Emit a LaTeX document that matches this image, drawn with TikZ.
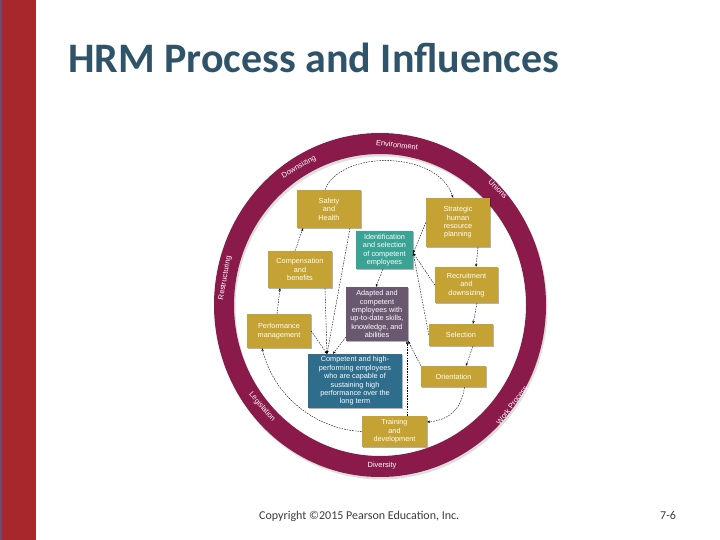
\documentclass[tikz,border=0pt]{standalone}
\usepackage{fontspec}
\setmainfont{Carlito}
\newfontfamily\figfont{Liberation Sans}
\usetikzlibrary{shadows,arrows.meta}
\definecolor{barred}{RGB}{168,39,44}
\definecolor{barline}{RGB}{110,74,110}
\definecolor{titlec}{RGB}{47,84,105}
\definecolor{ringc}{RGB}{138,26,74}
\definecolor{mustard}{RGB}{196,163,52}
\definecolor{tealc}{RGB}{58,163,148}
\definecolor{purplec}{RGB}{106,88,112}
\definecolor{bluec}{RGB}{46,110,140}
\definecolor{footc}{RGB}{60,60,60}
\begin{document}
\begin{tikzpicture}[x=1pt,y=-1pt,
  box/.style={text=white, align=center, inner sep=0pt,
    font=\figfont\fontsize{7.3}{8.4}\selectfont,
    drop shadow={shadow xshift=1.2pt, shadow yshift=-1.2pt, opacity=0.3, fill=black}},
  ybox/.style={box, fill=mustard},
  ringlabel/.style={text=white, inner sep=0pt, font=\figfont\fontsize{7.5}{9}\selectfont},
  conn/.style={draw=black, line width=0.4pt, dash pattern=on 1.6pt off 1.1pt},
  arr/.style={conn, -{Stealth[length=3pt,width=2.4pt]}}]
\useasboundingbox (0,0) rectangle (720,540);
\fill[white] (0,0) rectangle (720,540);
\fill[barred] (0,0) rectangle (36,540);
\fill[barline] (0,0) rectangle (2,540);
\node[anchor=base west, inner sep=0pt, text=titlec, font=\fontsize{42}{42}\selectfont\bfseries] (title) at (68,73) {HRM Process and Influences};

% ring
\fill[black!25, opacity=0.5, even odd rule] (381.5,307.5) ellipse [x radius=166, y radius=172] (381.5,307.5) ellipse [x radius=146, y radius=151];
\fill[ringc, even odd rule] (380,305) ellipse [x radius=166, y radius=172] (380,305) ellipse [x radius=146, y radius=151];

\node[ringlabel, rotate=-6] (env) at (397,145) {Environment};
\node[ringlabel, rotate=-45] (uni) at (498,189) {Unions};
\node[ringlabel, rotate=53] (work) at (512,405) {Work Process};
\node[ringlabel] (div) at (382,466) {Diversity};
\node[ringlabel, rotate=-49] (leg) at (262,407) {Legislation};
\node[ringlabel, rotate=80] (res) at (225,278) {Restructuring};
\node[ringlabel, rotate=30] (down) at (299,167) {Downsizing};

% boxes
\node[ybox, minimum width=64pt, minimum height=38pt] (safety) at (329,209) {Safety\\and\\Health};
\node[ybox, minimum width=64pt, minimum height=49pt] (strategic) at (458,222.5) {Strategic\\human\\resource\\planning};
\node[box, fill=tealc, minimum width=57pt, minimum height=38pt] (ident) at (384.5,250) {Identification\\and selection\\of competent\\employees};
\node[ybox, minimum width=64pt, minimum height=37pt] (comp) at (300,269.5) {Compensation\\and\\benefits};
\node[ybox, minimum width=63pt, minimum height=36pt] (recruit) at (466.5,285) {Recruitment\\and\\downsizing};
\node[box, fill=purplec, minimum width=62pt, minimum height=54pt] (adapted) at (377,314) {Adapted and\\competent\\employees with\\up-to-date skills,\\knowledge, and\\abilities};
\node[ybox, minimum width=64pt, minimum height=34pt] (perf) at (279,331) {Performance\\management};
\node[ybox, minimum width=64pt, minimum height=22pt] (select) at (461,335) {Selection};
\node[box, fill=bluec, minimum width=94pt, minimum height=54pt] (competent) at (355,381) {Competent and high-\\performing employees\\who are capable of\\sustaining high\\performance over the\\long term};
\node[ybox, minimum width=65pt, minimum height=21pt] (orient) at (453.5,376.5) {Orientation};
\node[ybox, minimum width=65pt, minimum height=31pt] (train) at (394.5,431.5) {Training\\and\\development};

% process cycle
\draw[arr] ([xshift=-4pt]safety.north) .. controls +(15,-40) and +(-15,-48) .. ([xshift=-5pt]strategic.north);
\draw[arr] ([xshift=20pt]strategic.south) -- ([xshift=9.5pt]recruit.north);
\draw[arr] ([xshift=10.5pt]recruit.south) -- ([xshift=12pt]select.north);
\draw[arr] ([xshift=12pt]select.south) -- ([xshift=12.5pt]orient.north);
\draw[arr] ([xshift=11pt]orient.south) .. controls +(-3,22) and +(22,-2) .. ([yshift=9.5pt]train.east);
\draw[arr] (train.west) .. controls +(-42,-2) and +(13,52) .. ([xshift=-17pt]perf.south);
\draw[arr] ([xshift=-2pt]perf.north) -- ([xshift=-20pt]comp.south);
\draw[arr] ([xshift=-5pt]comp.north) -- ([xshift=-26pt]safety.south);

% into identification
\draw[arr] (strategic.west) -- ([yshift=-3pt]ident.east);
\draw[arr] (recruit.west) -- ([yshift=-3pt]ident.east);
\draw[arr] (select.west) -- ([yshift=-3pt]ident.east);
\draw[arr] ([xshift=-1.5pt]ident.south) -- ([xshift=-1pt]adapted.north);

% into adapted
\draw[arr] (orient.north west) -- (adapted.south east);
\draw[arr] ([xshift=12.5pt]train.north) -- ([xshift=30pt]adapted.south);

% into competent
\coordinate (cin) at ([xshift=-28pt]competent.north);
\draw[arr] ([xshift=21pt]safety.south) -- (cin);
\draw[arr] ([xshift=25pt]comp.south) -- (cin);
\draw[arr] (perf.east) -- (cin);
\draw[arr] ([yshift=4pt]adapted.south west) -- ([xshift=-22pt]competent.north);

% footer
\node[anchor=base west, inner sep=0pt, text=footc, font=\fontsize{12}{12}\selectfont] (copy) at (259,519) {Copyright ©2015 Pearson Education, Inc.};
\node[anchor=base west, inner sep=0pt, text=footc, font=\fontsize{12}{12}\selectfont] (page) at (660,519) {7-6};
\end{tikzpicture}
\end{document}
